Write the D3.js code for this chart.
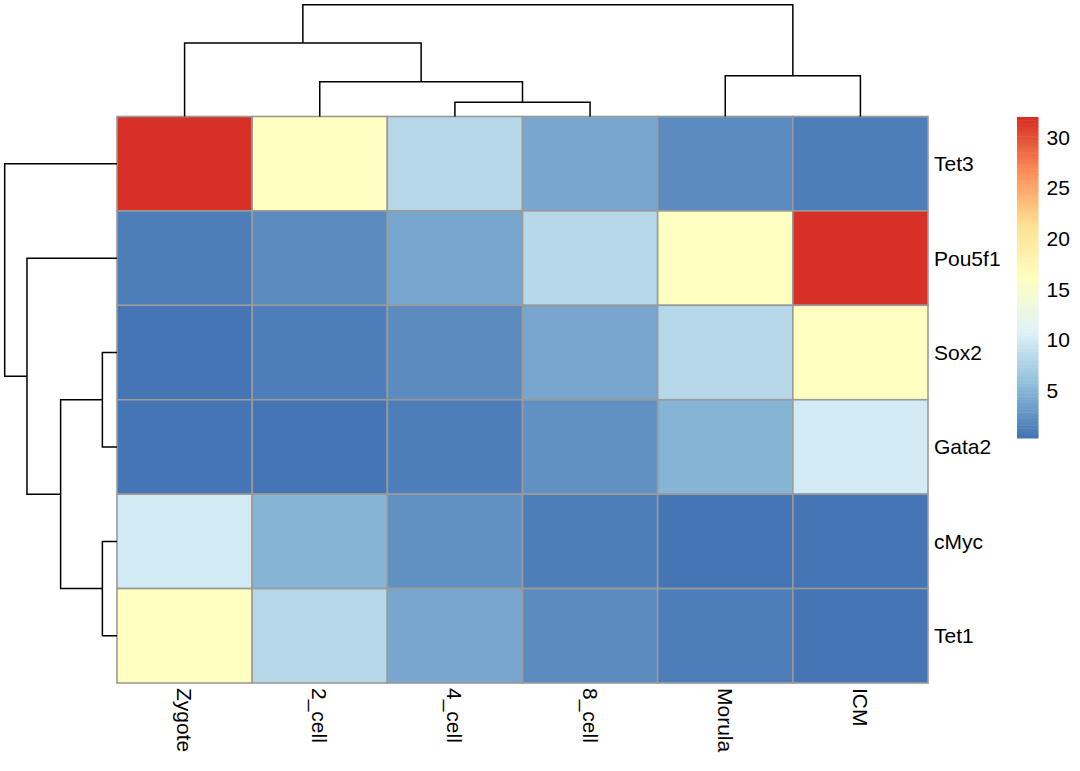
<!DOCTYPE html>
<html>
<head>
<meta charset="utf-8">
<script src="https://cdn.jsdelivr.net/npm/d3@7"></script>
<style>
  html, body { margin: 0; padding: 0; background: #ffffff; }
  svg { display: block; }
  text { font-family: "Liberation Sans", Arial, sans-serif; fill: #000; }
</style>
</head>
<body>
<script>
// ---------------- data ----------------
const colLabels = ["Zygote", "2_cell", "4_cell", "8_cell", "Morula", "ICM"];
const rowLabels = ["Tet3", "Pou5f1", "Sox2", "Gata2", "cMyc", "Tet1"];

const tet3   = [32, 16, 8, 4, 2, 1];
const pou5f1 = [1, 2, 4, 8, 16, 32];
const sox2   = [0.5, 1, 2, 4, 8, 16];
const gata2  = [0.3125, 0.625, 1.25, 2.5, 5, 10];
const cmyc   = [10, 5, 2.5, 1.25, 0.625, 0.3125];
const tet1   = [16, 8, 4, 2, 1, 0.5];
const rowValues = [tet3, pou5f1, sox2, gata2, cmyc, tet1];

// dendrogram merges: [childA, childB, height]; numbers refer to earlier merges
const colMerges = [
  ["4_cell", "8_cell", 6.2],
  ["2_cell", 0, 15.0],
  ["Zygote", 1, 31.8],
  ["Morula", "ICM", 17.6],
  [2, 3, 48.4]
];
const rowMerges = [
  ["Sox2", "Gata2", 6.3],
  ["cMyc", "Tet1", 6.3],
  [0, 1, 24.3],
  ["Pou5f1", 2, 38.8],
  ["Tet3", 3, 48.4]
];

const legendTicks = [5, 10, 15, 20, 25, 30];
const paletteStops = ["#4575B4", "#91BFDB", "#E0F3F8", "#FFFFBF", "#FEE090", "#FC8D59", "#D73027"];

// ---------------- layout ----------------
const W = 1080, H = 771;
const gx0 = 117, gx1 = 928, gy0 = 116.5, gy1 = 683;

const svg = d3.select("body").append("svg").attr("width", W).attr("height", H);

const x = d3.scaleBand().domain(colLabels).range([gx0, gx1]);
const y = d3.scaleBand().domain(rowLabels).range([gy0, gy1]);

const allVals = rowValues.flat();
const vmin = d3.min(allVals), vmax = d3.max(allVals);

// 100-colour ramp like colorRampPalette(rev(RdYlBu 7))(100)
const ramp = d3.scaleLinear()
  .domain(paletteStops.map((_, i) => i / (paletteStops.length - 1)))
  .range(paletteStops)
  .interpolate(d3.interpolateRgb);
const colors100 = d3.range(100).map(i => ramp(i / 99));
const color = d3.scaleQuantize().domain([vmin, vmax]).range(colors100);

// ---------------- cells ----------------
const cells = [];
rowLabels.forEach((r, i) => colLabels.forEach((c, j) => cells.push({ r, c, v: rowValues[i][j] })));

svg.append("g").selectAll("rect").data(cells).join("rect")
  .attr("x", d => x(d.c))
  .attr("y", d => y(d.r))
  .attr("width", x.bandwidth())
  .attr("height", y.bandwidth())
  .attr("fill", d => color(d.v))
  .attr("stroke", "#9a9a9a")
  .attr("stroke-width", 1.6);

// ---------------- dendrograms ----------------
function buildTree(merges, pos) {
  const nodes = [];
  const get = c => (typeof c === "number") ? nodes[c] : { p: pos(c), h: 0 };
  merges.forEach(([a, b, h]) => {
    const A = get(a), B = get(b);
    nodes.push({ a: A, b: B, h, p: (A.p + B.p) / 2 });
  });
  return nodes;
}

const maxColH = d3.max(colMerges, d => d[2]);
const colH = d3.scaleLinear().domain([0, maxColH]).range([gy0, 4.7]);
const colNodes = buildTree(colMerges, c => x(c) + x.bandwidth() / 2);
svg.append("g").selectAll("path").data(colNodes).join("path")
  .attr("d", n => `M${n.a.p},${colH(n.a.h)}V${colH(n.h)}H${n.b.p}V${colH(n.b.h)}`)
  .attr("fill", "none").attr("stroke", "#000").attr("stroke-width", 1.5);

const maxRowH = d3.max(rowMerges, d => d[2]);
const rowH = d3.scaleLinear().domain([0, maxRowH]).range([gx0, 4.7]);
const rowNodes = buildTree(rowMerges, r => y(r) + y.bandwidth() / 2);
svg.append("g").selectAll("path").data(rowNodes).join("path")
  .attr("d", n => `M${rowH(n.a.h)},${n.a.p}H${rowH(n.h)}V${n.b.p}H${rowH(n.b.h)}`)
  .attr("fill", "none").attr("stroke", "#000").attr("stroke-width", 1.5);

// ---------------- labels ----------------
svg.append("g").selectAll("text").data(rowLabels).join("text")
  .attr("x", gx1 + 6)
  .attr("y", d => y(d) + y.bandwidth() / 2)
  .attr("dominant-baseline", "central")
  .attr("font-size", 21)
  .text(d => d);

svg.append("g").selectAll("text").data(colLabels).join("text")
  .attr("transform", d => `translate(${x(d) + x.bandwidth() / 2},${gy1 + 5}) rotate(90)`)
  .attr("dominant-baseline", "central")
  .attr("text-anchor", "start")
  .attr("font-size", 21)
  .text(d => d);

// ---------------- legend ----------------
const lx0 = 1017, lw = 21.5, ly0 = 117, ly1 = 438;
const ly = d3.scaleLinear().domain([vmin, vmax]).range([ly1, ly0]);
const lg = svg.append("g");
const stepH = (ly1 - ly0) / 100;
lg.selectAll("rect").data(colors100).join("rect")
  .attr("x", lx0)
  .attr("y", (d, i) => ly1 - (i + 1) * stepH)
  .attr("width", lw)
  .attr("height", stepH + 0.5)
  .attr("fill", d => d);
lg.selectAll("text").data(legendTicks).join("text")
  .attr("x", lx0 + lw + 8)
  .attr("y", d => ly(d))
  .attr("dominant-baseline", "central")
  .attr("font-size", 21)
  .text(d => d);
</script>
</body>
</html>
